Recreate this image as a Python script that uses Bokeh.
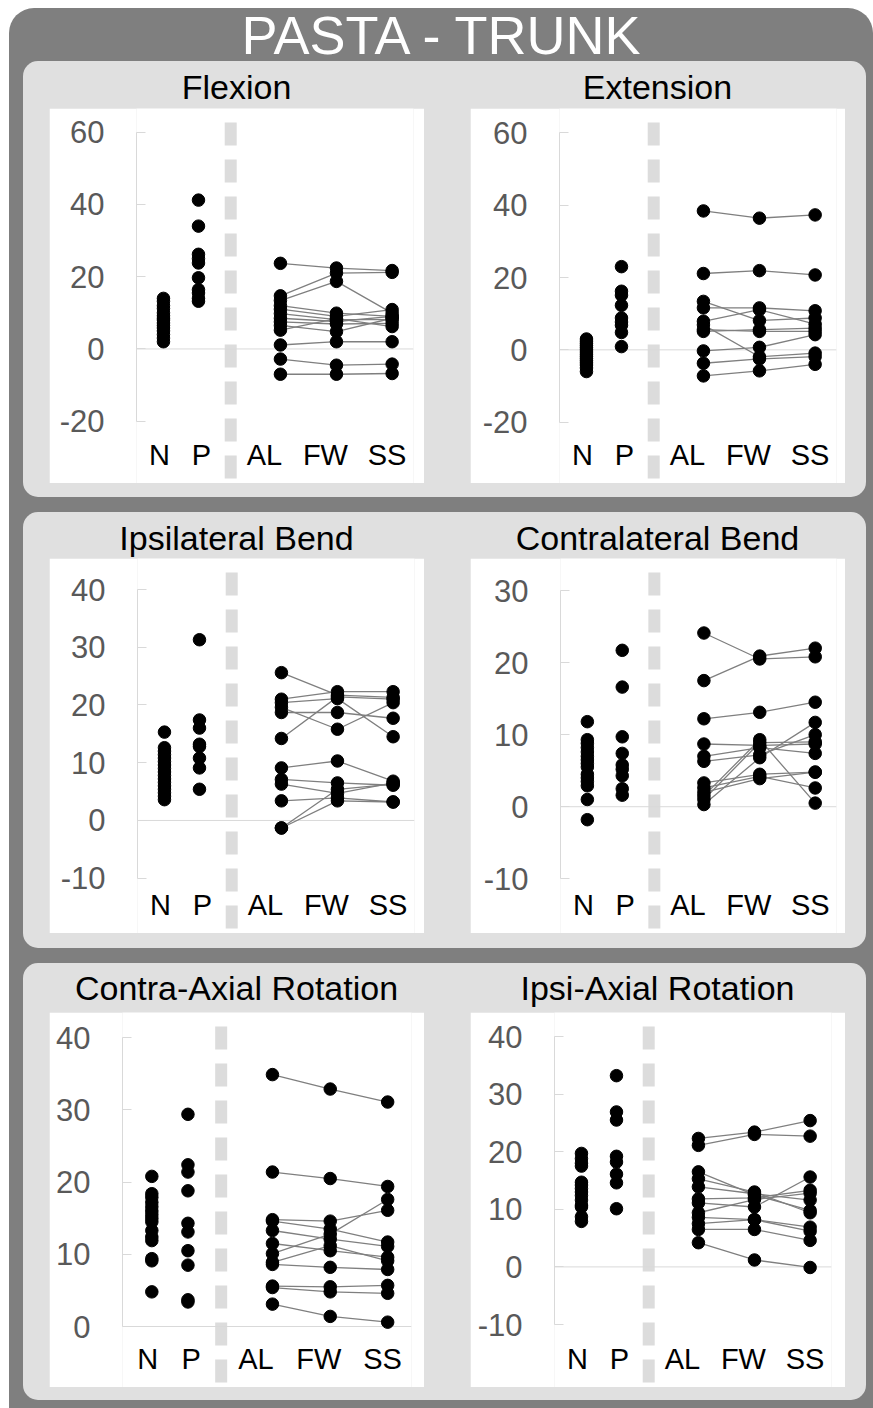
from bokeh.plotting import figure
from bokeh.models import Range1d, FixedTicker, LinearAxis, Span, Div, CustomJSTickFormatter
from bokeh.layouts import column, row
from bokeh.embed import file_html
from bokeh.resources import INLINE

# ---------------- data ----------------
CATEGORIES = ["N", "P", "AL", "FW", "SS"]
CAT_X = [1.0, 2.0, 4.34, 5.94, 7.53]          # where the dots of each group sit
LABEL_X = [0.886, 2.086, 3.883, 5.626, 7.387]  # where the group names are written
SEP_X = 2.92

# Flexion
flex_N = [14.0, 13.2, 12.0, 11.2, 10.0, 9.2, 8.5, 8.0, 7.2, 6.5, 5.8, 5.0, 4.0, 3.0, 2.0]
flex_P = [41.2, 34.0, 26.2, 25.0, 23.8, 19.7, 16.4, 15.5, 14.0, 13.2]
flex_AL = [23.7, 14.7, 13.4, 12.0, 11.0, 9.8, 8.5, 7.5, 6.5, 5.2, 1.1, -2.8, -7.0]
flex_FW = [22.4, 21.0, 18.7, 9.9, 9.0, 8.1, 7.6, 6.9, 4.8, 8.4, 2.0, -4.5, -7.0]
flex_SS = [21.7, 21.2, 9.9, 9.0, 10.9, 8.1, 9.0, 7.1, 8.5, 6.2, 2.0, -4.2, -6.8]

# Extension
ext_N = [3.0, 2.4, 1.8, 1.2, 0.6, 0.0, -0.6, -1.2, -1.8, -2.4, -3.0, -3.6, -4.2, -5.0, -6.0]
ext_P = [23.0, 16.2, 15.1, 12.3, 8.8, 7.7, 6.8, 4.8, 0.9]
ext_AL = [38.4, 21.1, 13.4, 11.6, 7.9, 6.9, 5.1, 5.6, -0.3, -3.7, -7.2]
ext_FW = [36.4, 21.9, 8.1, 11.6, 11.1, -1.9, 5.6, 5.1, 0.7, -2.5, -5.8]
ext_SS = [37.3, 20.7, 8.8, 10.8, 7.1, -0.9, 6.0, 5.1, 4.2, -1.9, -4.0]

# Ipsilateral Bend
ibend_N = [15.3, 12.6, 12.0, 11.4, 10.8, 10.2, 9.6, 9.0, 8.4, 7.8, 7.2, 6.6, 6.0, 5.4, 4.8, 4.2, 3.6]
ibend_P = [31.3, 17.4, 16.0, 13.2, 12.8, 10.8, 9.1, 5.4]
ibend_AL = [25.6, 21.0, 20.4, 19.6, 18.7, 14.2, 9.1, 7.1, 6.3, 3.4, -1.3, -1.3]
ibend_FW = [21.7, 22.3, 21.1, 15.8, 18.7, 21.4, 10.3, 6.5, 4.7, 3.9, 5.4, 3.4]
ibend_SS = [21.3, 22.3, 14.5, 20.4, 17.7, 21.0, 6.8, 6.1, 6.5, 3.2, 6.3, 3.2]

# Contralateral Bend
cbend_N = [11.8, 9.3, 8.8, 8.2, 7.6, 7.0, 6.5, 6.0, 5.5, 4.5, 4.0, 3.5, 2.9, 1.0, -1.8]
cbend_P = [21.7, 16.6, 9.7, 7.4, 5.8, 5.2, 4.3, 2.5, 1.6]
cbend_AL = [24.1, 17.5, 12.2, 8.7, 7.0, 6.3, 3.3, 2.6, 1.5, 0.3, 2.0, 1.0]
cbend_FW = [20.5, 20.9, 13.1, 8.5, 8.2, 7.2, 4.5, 4.2, 9.3, 6.8, 3.9, 8.9]
cbend_SS = [20.8, 22.0, 14.5, 8.7, 7.4, 10.0, 4.8, 2.6, 0.5, 11.7, 4.8, 9.0]

# Contra-Axial Rotation
crot_N = [20.8, 18.4, 17.9, 17.2, 16.6, 16.0, 15.5, 15.0, 14.5, 13.3, 12.4, 11.9, 9.4, 9.1, 4.8]
crot_P = [29.4, 22.4, 21.4, 18.8, 14.3, 13.1, 10.5, 8.5, 3.7, 3.4]
crot_AL = [34.9, 21.4, 14.8, 14.6, 13.3, 11.5, 10.1, 8.9, 8.6, 5.6, 5.4, 3.1]
crot_FW = [32.9, 20.5, 14.6, 13.5, 12.1, 10.5, 12.8, 11.2, 8.2, 5.5, 4.8, 1.4]
crot_SS = [31.1, 19.4, 16.1, 11.7, 11.1, 9.6, 17.6, 9.1, 7.9, 5.7, 4.6, 0.6]

# Ipsi-Axial Rotation
irot_N = [19.7, 18.8, 18.0, 17.5, 14.7, 14.2, 13.6, 13.0, 12.4, 11.6, 10.7, 10.4, 8.7, 7.9]
irot_P = [33.2, 26.9, 25.5, 19.2, 18.2, 16.1, 14.6, 10.1]
irot_AL = [22.3, 21.1, 16.5, 15.3, 13.9, 11.8, 11.1, 9.4, 8.6, 7.5, 6.5, 4.2]
irot_FW = [23.4, 23.0, 12.5, 13.0, 12.7, 12.0, 10.4, 11.7, 8.2, 8.2, 6.5, 1.2]
irot_SS = [25.4, 22.7, 9.8, 9.4, 11.6, 13.3, 15.6, 12.8, 6.9, 6.2, 4.6, -0.1]

Y_TICKS_FE = [-20, 0, 20, 40, 60]
Y_TICKS_IB = [-10, 0, 10, 20, 30, 40]
Y_TICKS_CB = [-10, 0, 10, 20, 30]
Y_TICKS_CR = [0, 10, 20, 30, 40]
Y_TICKS_IR = [-10, 0, 10, 20, 30, 40]

# ---------------- style / layout ----------------
DARK = "#7f7f7f"
LIGHT = "#e0e0e0"
SEP = "#dcdcdc"
AXIS_GREY = "#d9d9d9"
FONT = "Liberation Sans"
BOX = 375
LABEL_PX = 330   # top of category labels, px from top of white box
XR_STD = (0.23, 8.14)
XR_WIDE = (0.188, 8.19)

# (frame_left, frame_right, px of top tick, px of bottom tick, x range) relative to the white box
PANELS = [
    ("Flexion", flex_N, flex_P, flex_AL, flex_FW, flex_SS, Y_TICKS_FE, (87, 364, 23.7, 312.7, XR_STD)),
    ("Extension", ext_N, ext_P, ext_AL, ext_FW, ext_SS, Y_TICKS_FE, (89, 366, 24.3, 313.7, XR_STD)),
    ("Ipsilateral Bend", ibend_N, ibend_P, ibend_AL, ibend_FW, ibend_SS, Y_TICKS_IB, (88, 365, 31.0, 319.7, XR_STD)),
    ("Contralateral Bend", cbend_N, cbend_P, cbend_AL, cbend_FW, cbend_SS, Y_TICKS_CB, (90, 366, 32.0, 320.3, XR_STD)),
    ("Contra-Axial Rotation", crot_N, crot_P, crot_AL, crot_FW, crot_SS, Y_TICKS_CR, (73, 362, 25.3, 314.0, XR_WIDE)),
    ("Ipsi-Axial Rotation", irot_N, irot_P, irot_AL, irot_FW, irot_SS, Y_TICKS_IR, (84, 361, 24.0, 312.0, XR_STD)),
]


def make_fig(n, pv, al, fw, ss, ticks, geom):
    fl, fr, top_px, bot_px, xr = geom
    lo, hi = min(ticks), max(ticks)
    s = (bot_px - top_px) / (hi - lo)
    y0 = lo - (BOX - bot_px) / s
    y1 = hi + top_px / s
    p = figure(width=BOX, height=BOX, x_range=Range1d(*xr), y_range=Range1d(y0, y1),
               output_backend="svg", toolbar_location=None,
               x_axis_location=None, y_axis_location=None,
               min_border_left=fl, min_border_right=BOX - fr,
               min_border_top=0, min_border_bottom=0,
               background_fill_color="white", border_fill_color="white",
               outline_line_color=None)
    p.grid.visible = False

    yaxis = LinearAxis(bounds=(lo, hi), ticker=FixedTicker(ticks=ticks),
                       formatter=CustomJSTickFormatter(code="return String(tick);"),
                       axis_line_color=AXIS_GREY, major_tick_line_color=AXIS_GREY,
                       major_tick_in=9, major_tick_out=0, minor_tick_line_color=None,
                       major_label_standoff=32, major_label_text_font=FONT,
                       major_label_text_font_size="31px", major_label_text_color="#595959")
    p.add_layout(yaxis, "left")

    xaxis = LinearAxis(fixed_location=y1 - LABEL_PX / s, ticker=FixedTicker(ticks=LABEL_X),
                       formatter=CustomJSTickFormatter(args=dict(labels=CATEGORIES),
                                                       code="return labels[index];"),
                       axis_line_color=None, major_tick_line_color=None, minor_tick_line_color=None,
                       major_tick_in=0, major_tick_out=0, major_label_standoff=0,
                       major_label_text_font=FONT, major_label_text_font_size="29px",
                       major_label_text_color="black")
    p.add_layout(xaxis, "below")

    p.add_layout(Span(location=SEP_X, dimension="height", line_color=SEP, line_width=12,
                      line_dash="23 14", line_dash_offset=23, level="underlay"))
    p.add_layout(Span(location=0, dimension="width", line_color=AXIS_GREY, line_width=1,
                      level="underlay"))

    xs = [[CAT_X[2], CAT_X[3], CAT_X[4]] for _ in al]
    ys = [[a, f, q] for a, f, q in zip(al, fw, ss)]
    p.multi_line(xs, ys, line_color="#7f7f7f", line_width=1.3)

    groups = [n, pv, al, fw, ss]
    for xpos, vals in zip(CAT_X, groups):
        p.scatter([xpos] * len(vals), vals, size=12.5, color="black", line_color="black")
    return p


def title_div(text, height, center):
    return Div(text=text, width=BOX, height=height, margin=0,
               styles={"font-family": FONT, "font-size": "34px", "color": "black",
                       "text-align": "center", "line-height": f"{2 * center}px",
                       "white-space": "nowrap"})


figs = [make_fig(*pp[1:]) for pp in PANELS]

ROW_TITLE_H = [47, 46, 49]
ROW_PANEL_H = [436, 436, 437]
ROW_TITLE_C = [26, 26, 25]

panels = []
for r in range(3):
    t = row(title_div(PANELS[2 * r][0], ROW_TITLE_H[r], ROW_TITLE_C[r]),
            title_div(PANELS[2 * r + 1][0], ROW_TITLE_H[r], ROW_TITLE_C[r]),
            spacing=46, margin=(0, 0, 0, 26))
    f = row(figs[2 * r], figs[2 * r + 1], spacing=46, margin=(0, 0, 0, 26))
    pan = column(t, f, width=843, height=ROW_PANEL_H[r], spacing=0,
                 margin=(0 if r == 0 else 15, 0, 0, 14),
                 styles={"background-color": LIGHT, "border-radius": "15px"})
    panels.append(pan)

head = Div(text="PASTA - TRUNK", width=864, height=53, margin=0,
           styles={"font-family": FONT, "font-size": "54px", "color": "white",
                   "text-align": "center", "line-height": "55px", "white-space": "nowrap"})

layout = column(head, *panels, width=864, height=1400, spacing=0, margin=(8, 0, 0, 9),
                styles={"background-color": DARK, "border-radius": "25px 25px 0 0"})

open("out.html", "w").write(file_html(layout, INLINE))
